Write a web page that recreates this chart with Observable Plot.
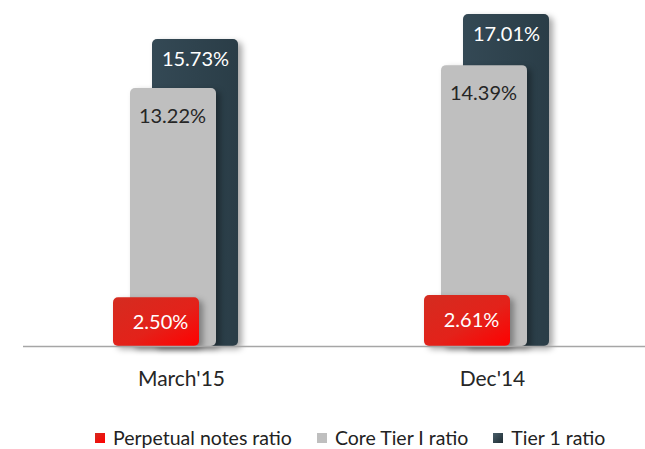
<!DOCTYPE html>
<html>
<head>
<meta charset="utf-8">
<script src="https://cdn.jsdelivr.net/npm/d3@7"></script>
<script src="https://cdn.jsdelivr.net/npm/@observablehq/plot@0.6"></script>
<style>
  body { margin: 0; background: #fff; font-family: Lato, sans-serif; }
  #chart { width: 645px; }
  .legend { display: flex; align-items: center; padding-left: 95px; margin-top: 6px; height: 24px; font-size: 19.5px; color: #222; line-height: 24px; white-space: nowrap; }
  .legend .item { display: flex; align-items: center; margin-right: 25px; }
  .legend .sw { width: 10px; height: 10px; margin-right: 8px; }
</style>
</head>
<body>
<div id="chart"></div>
<script>
const categories = ["March'15", "Dec'14"];
const seriesNames = ["Perpetual notes ratio", "Core Tier I ratio", "Tier 1 ratio"];
const perpetualNotes = [2.50, 2.61];
const coreTier1 = [13.22, 14.39];
const tier1 = [15.73, 17.01];

const rows = (vals) => categories.map((c, i) => ({category: c, value: vals[i]}));
const fmt = (v) => d3.format(".2f")(v) + "%";
const shadow = "drop-shadow(4px 3px 3px rgba(0,0,0,0.35))";

const plot = Plot.plot({
  width: 645,
  height: 420,
  marginLeft: 23,
  marginRight: 0,
  marginTop: 14,
  marginBottom: 74,
  style: {fontFamily: "Lato, sans-serif", background: "#fff"},
  x: {domain: categories, paddingInner: 0.7244, paddingOuter: 0.359, align: 0.509, label: null},
  y: {domain: [0, d3.max(tier1)], axis: null},
  marks: [
    Plot.barY(rows(tier1), {x: "category", y: "value", fill: "url(#gDark)", dx: 14, rx: 5, inset: 0}),
    Plot.barY(rows(coreTier1), {x: "category", y: "value", fill: "#bfbfbf", dx: -8, rx: 5, inset: 0}),
    Plot.barY(rows(perpetualNotes), {x: "category", y: "value", fill: "url(#gRed)", dx: -25, rx: 5, inset: 0}),
    Plot.ruleY([0], {stroke: "#a6a6a6", strokeWidth: 1.5}),
    Plot.text(rows(tier1), {x: "category", y: "value", text: d => fmt(d.value), dx: 14, dy: 20, fill: "#ffffff", fontSize: 20, lineAnchor: "middle"}),
    Plot.text(rows(coreTier1), {x: "category", y: "value", text: d => fmt(d.value), dx: -9, dy: 28, fill: "#262626", fontSize: 20, lineAnchor: "middle"}),
    Plot.text(rows(perpetualNotes), {x: "category", y: d => d.value / 2, text: d => fmt(d.value), dx: -21, fill: "#ffffff", fontSize: 20, lineAnchor: "middle"}),
    Plot.axisX({tickSize: 0, tickPadding: 25, fontSize: 21, color: "#262626", label: null})
  ]
});

const svg = d3.select(plot);
const defs = svg.insert("defs", ":first-child");
const gr = defs.append("linearGradient").attr("id", "gRed").attr("x1", "0").attr("y1", "0").attr("x2", "1").attr("y2", "1");
gr.append("stop").attr("offset", "0%").attr("stop-color", "#d42c20");
gr.append("stop").attr("offset", "55%").attr("stop-color", "#e3221a");
gr.append("stop").attr("offset", "100%").attr("stop-color", "#ff0000");
const gd = defs.append("linearGradient").attr("id", "gDark").attr("x1", "0").attr("y1", "0").attr("x2", "1").attr("y2", "0");
gd.append("stop").attr("offset", "0%").attr("stop-color", "#344955");
gd.append("stop").attr("offset", "100%").attr("stop-color", "#2a3d47");

svg.selectAll("g[aria-label='bar']").attr("style", "filter:" + shadow);

document.getElementById("chart").appendChild(plot);

const swatches = ["linear-gradient(135deg, #d42c20, #ff0000)", "#bfbfbf", "linear-gradient(135deg, #4a5f6a, #1e2c33)"];
const legend = d3.select("#chart").append("div").attr("class", "legend");
seriesNames.forEach((name, i) => {
  const item = legend.append("div").attr("class", "item");
  item.append("div").attr("class", "sw").style("background", swatches[i]);
  item.append("span").text(name);
});
</script>
</body>
</html>
